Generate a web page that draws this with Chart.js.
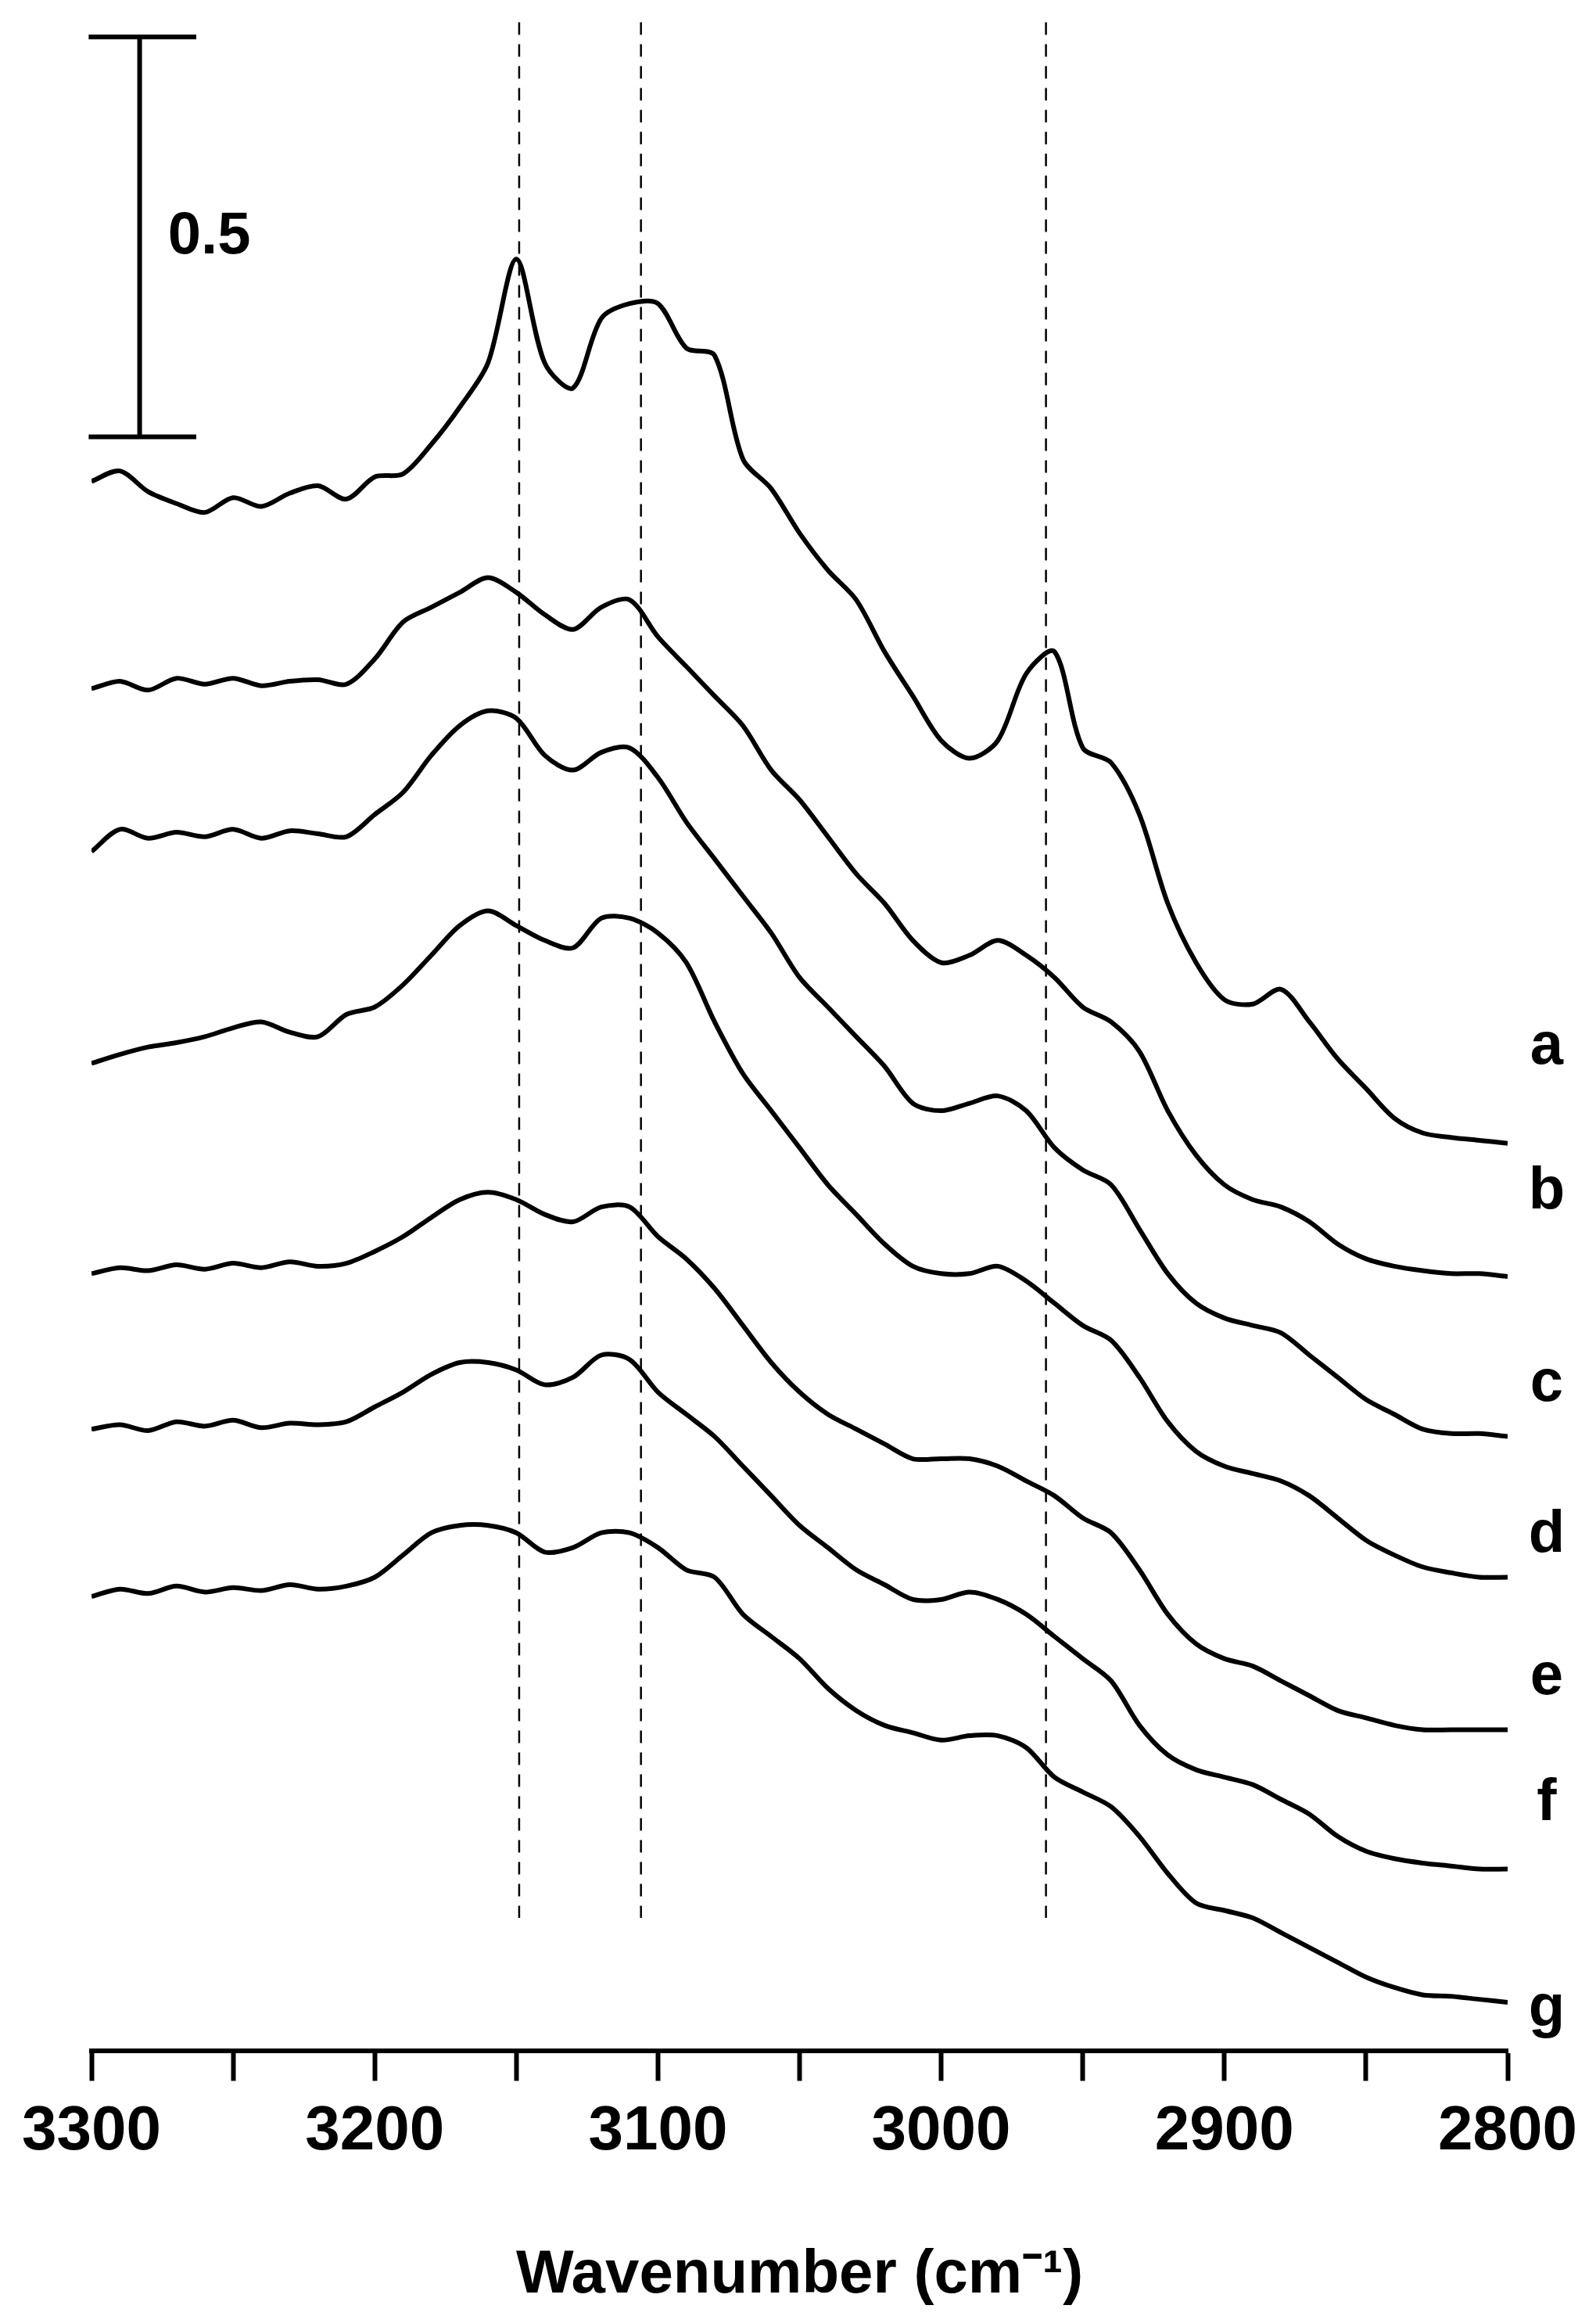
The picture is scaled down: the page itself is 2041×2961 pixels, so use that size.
<!DOCTYPE html>
<html>
<head>
<meta charset="utf-8">
<script src="https://cdn.jsdelivr.net/npm/chart.js@4"></script>
<style>
  body { margin: 0; background: #fff; }
  #wrap { width: 2041px; height: 2961px; }
</style>
</head>
<body>
<div id="wrap"><canvas id="spectra"></canvas></div>
<script>
// wavenumbers, 3300 -> 2800 cm-1
const wavenumbers = [];
for (let w = 3300; w >= 2800; w -= 10) wavenumbers.push(w);

// offset traces (plot units, larger = lower on the page)
const traceA = [325,318,332,340,346,336,342,333,328,337,322,320,300,275,245,175,245,262,215,205,205,235,240,310,330,360,385,405,440,470,500,512,500,455,440,505,515,550,610,650,675,678,668,690,715,735,755,765,768,770,772];
const traceB = [465,460,466,458,462,458,463,460,459,462,445,420,410,400,390,400,415,425,410,405,430,450,470,490,520,540,565,590,610,635,650,645,635,645,660,680,690,710,750,780,800,810,815,825,840,850,855,858,860,860,862];
const traceC = [575,560,566,562,565,560,566,561,563,565,550,535,510,490,480,485,510,520,508,505,525,555,580,605,630,660,680,700,720,745,750,745,740,750,775,790,800,830,860,880,890,895,900,915,930,945,955,965,968,968,970];
const traceD = [718,712,707,704,700,694,690,697,700,685,680,665,645,625,615,625,635,640,620,620,630,650,690,725,750,775,800,820,840,855,860,860,855,865,880,895,905,930,960,980,990,995,1000,1010,1025,1040,1050,1058,1062,1065,1065];
const traceE = [860,856,858,854,857,853,856,852,855,853,845,835,822,810,805,810,820,825,815,815,835,850,870,895,920,940,955,965,975,985,985,985,990,1000,1010,1025,1035,1060,1090,1110,1120,1125,1135,1145,1155,1160,1165,1168,1168,1168,1168];
const traceF = [965,962,966,960,963,959,964,961,962,960,950,940,928,920,920,925,935,930,915,918,940,955,970,990,1010,1030,1045,1060,1070,1080,1080,1075,1080,1090,1105,1120,1135,1165,1185,1195,1200,1205,1215,1225,1240,1250,1255,1258,1260,1262,1262];
const traceG = [1078,1073,1076,1071,1075,1072,1074,1070,1073,1071,1065,1050,1035,1030,1030,1035,1048,1045,1035,1035,1045,1060,1065,1090,1105,1120,1140,1155,1165,1170,1175,1172,1172,1180,1200,1210,1220,1240,1265,1285,1290,1295,1305,1315,1325,1335,1342,1347,1348,1350,1352];

const traces = [traceA, traceB, traceC, traceD, traceE, traceF, traceG];
const traceLabels = ["a", "b", "c", "d", "e", "f", "g"];
const labelY = [707, 805, 935, 1037, 1133, 1218, 1357];
const dashedAt = [3149, 3106, 2963];
const xTicks = [3300, 3200, 3100, 3000, 2900, 2800];

const annotate = {
  id: "annotate",
  afterDatasetsDraw(chart) {
    const { ctx, scales: { x, y } } = chart;
    ctx.save();
    ctx.strokeStyle = "#000";
    // dashed guides
    ctx.lineWidth = 2.5;
    ctx.setLineDash([16, 12]);
    dashedAt.forEach(w => {
      ctx.beginPath();
      ctx.moveTo(x.getPixelForValue(w), y.getPixelForValue(15));
      ctx.lineTo(x.getPixelForValue(w), y.getPixelForValue(1295));
      ctx.stroke();
    });
    ctx.setLineDash([]);
    // scale bar
    ctx.lineWidth = 6;
    const bx = x.getPixelForValue(3283);
    const t = y.getPixelForValue(25), b = y.getPixelForValue(295);
    ctx.beginPath();
    ctx.moveTo(bx, t); ctx.lineTo(bx, b);
    ctx.moveTo(x.getPixelForValue(3301), t); ctx.lineTo(x.getPixelForValue(3263), t);
    ctx.moveTo(x.getPixelForValue(3301), b); ctx.lineTo(x.getPixelForValue(3263), b);
    ctx.stroke();
    ctx.fillStyle = "#000";
    ctx.font = "bold 76px 'Liberation Sans', Arial, sans-serif";
    ctx.textBaseline = "middle";
    ctx.textAlign = "left";
    ctx.fillText("0.5", x.getPixelForValue(3273), y.getPixelForValue(160));
    ctx.textAlign = "center";
    traceLabels.forEach((l, i) => ctx.fillText(l, 1978, y.getPixelForValue(labelY[i])));
    ctx.restore();
  }
};

new Chart(document.getElementById("spectra"), {
  type: "line",
  data: {
    datasets: traces.map((tr, i) => ({
      label: traceLabels[i],
      data: tr.map((v, j) => ({ x: wavenumbers[j], y: v })),
      borderColor: "#000",
      borderWidth: 6,
      pointRadius: 0,
      tension: 0.3,
      fill: false
    }))
  },
  options: {
    responsive: true,
    maintainAspectRatio: false,
    animation: false,
    layout: { padding: { left: 117, right: 113, top: 0, bottom: 5 } },
    plugins: { legend: { display: false }, tooltip: { enabled: false } },
    scales: {
      x: {
        type: "linear",
        reverse: true,
        min: 2800,
        max: 3300,
        border: { color: "#000", width: 6 },
        grid: { drawOnChartArea: false, drawTicks: true, tickLength: 38, tickWidth: 6, color: "#000" },
        ticks: {
          stepSize: 50,
          autoSkip: false,
          maxRotation: 0,
          padding: 18,
          color: "#000",
          font: { size: 80, weight: "bold", family: "'Liberation Sans', Arial, sans-serif" },
          callback: v => (xTicks.includes(v) ? String(v) : "")
        },
        title: {
          display: true,
          text: "Wavenumber (cm\u207B\u00B9)",
          color: "#000",
          padding: { top: 70, bottom: 0 },
          font: { size: 78, weight: "bold", family: "'Liberation Sans', Arial, sans-serif" }
        }
      },
      y: {
        display: false,
        reverse: true,
        min: 0,
        max: 1385
      }
    }
  },
  plugins: [annotate]
});
</script>
</body>
</html>
